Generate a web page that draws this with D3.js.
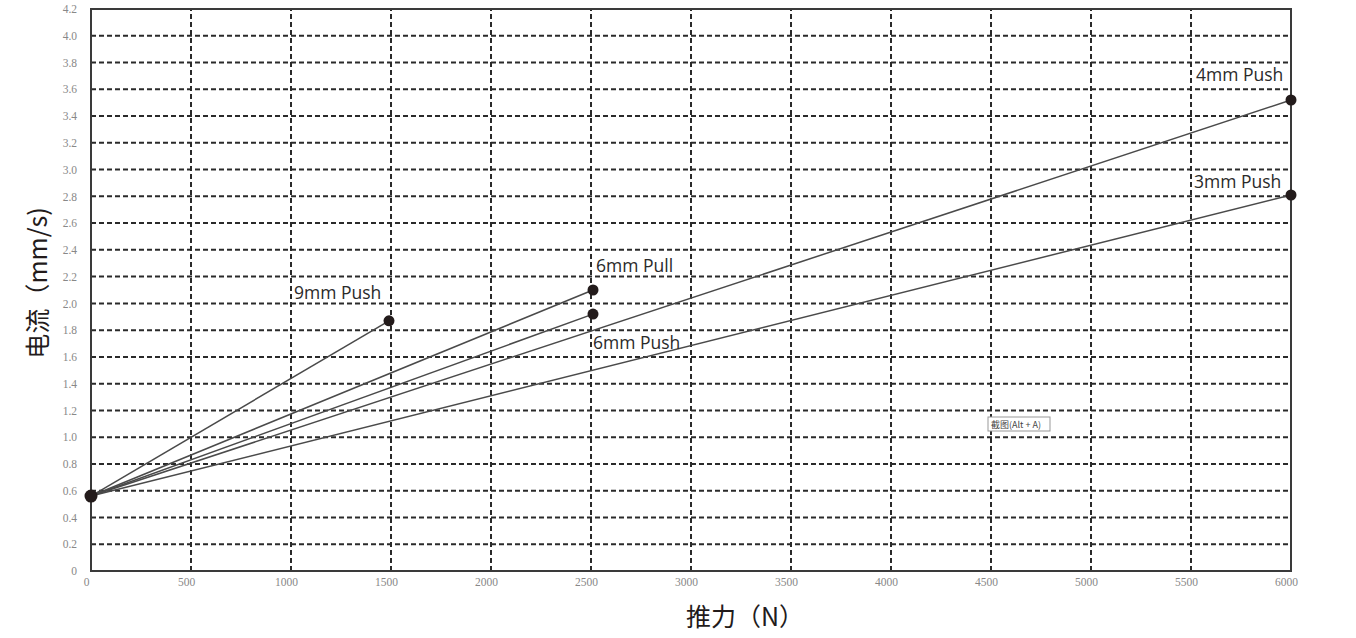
<!DOCTYPE html>
<html><head><meta charset="utf-8">
<script src="https://cdn.jsdelivr.net/npm/d3@7"></script>
<style>body{margin:0;background:#fff;}svg{display:block;}</style>
</head><body><svg id="c" width="1356" height="638"></svg>
<script>
const xTicks = [0,500,1000,1500,2000,2500,3000,3500,4000,4500,5000,5500,6000];
const yTicks = [0,0.2,0.4,0.6,0.8,1.0,1.2,1.4,1.6,1.8,2.0,2.2,2.4,2.6,2.8,3.0,3.2,3.4,3.6,3.8,4.0,4.2];
const seriesNames = ["9mm Push","6mm Pull","6mm Push","4mm Push","3mm Push"];
const startPoint = [0, 0.56];
const endX = [1490, 2510, 2510, 6000, 6000];
const endY = [1.87, 2.10, 1.92, 3.52, 2.81];

const svg = d3.select("#c");
const x = d3.scaleLinear().domain([0,6000]).range([91,1291]);
const y = d3.scaleLinear().domain([0,4.2]).range([571,9]);

// grid
const g = svg.append("g");
g.selectAll(".hg").data(yTicks.filter(v=>v>0 && v<4.2)).join("line")
 .attr("x1",x(0)).attr("x2",x(6000)).attr("y1",d=>y(d)).attr("y2",d=>y(d))
 .attr("stroke","#2a2a2a").attr("stroke-width",2).attr("stroke-dasharray","5,3");
g.selectAll(".vg").data(xTicks.filter(v=>v>0 && v<6000)).join("line")
 .attr("y1",y(0)).attr("y2",y(4.2)).attr("x1",d=>x(d)).attr("x2",d=>x(d))
 .attr("stroke","#2a2a2a").attr("stroke-width",2).attr("stroke-dasharray","5,3");

// border
svg.append("rect").attr("x",x(0)).attr("y",y(4.2)).attr("width",x(6000)-x(0)).attr("height",y(0)-y(4.2))
 .attr("fill","none").attr("stroke","#3a3a3a").attr("stroke-width",2);

// axes tick labels
const yAxis = d3.axisLeft(y).tickValues(yTicks).tickSize(0).tickPadding(14)
 .tickFormat(d=> d===0 ? "0" : d3.format(".1f")(d));
const ya = svg.append("g").attr("transform",`translate(${x(0)},0)`).call(yAxis);
ya.select(".domain").remove();
ya.selectAll("text").attr("font-family","'Liberation Serif', serif").attr("font-size",11.5).attr("fill","#888");

const xAxis = d3.axisBottom(x).tickValues(xTicks).tickSize(0).tickPadding(7).tickFormat(d3.format("d"));
const xa = svg.append("g").attr("transform",`translate(-5,${y(0)})`).call(xAxis);
xa.select(".domain").remove();
xa.selectAll("text").attr("font-family","'Liberation Serif', serif").attr("font-size",11.5).attr("fill","#888");

// lines
const lineData = seriesNames.map((n,i)=>({name:n, pts:[startPoint,[endX[i],endY[i]]]}));
const line = d3.line().x(d=>x(d[0])).y(d=>y(d[1]));
svg.selectAll(".ln").data(lineData).join("path")
 .attr("d",d=>line(d.pts)).attr("fill","none").attr("stroke","#4a4a4a").attr("stroke-width",1.5);

svg.selectAll(".dot").data(lineData).join("circle")
 .attr("cx",d=>x(d.pts[1][0])).attr("cy",d=>y(d.pts[1][1])).attr("r",5.5).attr("fill","#231b1b");
svg.append("circle").attr("cx",x(startPoint[0])).attr("cy",y(startPoint[1])).attr("r",6.5).attr("fill","#231b1b");

// labels
const labelOff = {"9mm Push":[-95,-22],"6mm Pull":[3,-18],"6mm Push":[0,35],"4mm Push":[-95,-19],"3mm Push":[-97,-7]};
svg.selectAll(".lb").data(lineData).join("text")
 .attr("x",d=>x(d.pts[1][0])+labelOff[d.name][0]).attr("y",d=>y(d.pts[1][1])+labelOff[d.name][1])
 .text(d=>d.name).attr("font-family","'Open Sans', 'DejaVu Sans', sans-serif").attr("font-size",17.5).attr("fill","#2a2a2a");

// axis titles
svg.append("text").attr("x",745).attr("y",626).attr("text-anchor","middle")
 .attr("font-family","'Noto Sans CJK SC', sans-serif").attr("font-size",25).attr("fill","#231b1b").text("推力（N）");
svg.append("text").attr("transform","translate(47,283) rotate(-90)").attr("text-anchor","middle")
 .attr("font-family","'Noto Sans CJK SC', sans-serif").attr("font-size",25).attr("fill","#231b1b").text("电流（mm/s)");

// screenshot tooltip
const tt = svg.append("g").attr("transform","translate(988,417)");
tt.append("rect").attr("width",62).attr("height",14).attr("fill","#fff").attr("stroke","#999").attr("stroke-width",1);
tt.append("text").attr("x",3).attr("y",10.5).attr("font-family","'Noto Sans CJK SC', sans-serif").attr("font-size",9).attr("fill","#444").text("截图(Alt + A)");
</script></body></html>
